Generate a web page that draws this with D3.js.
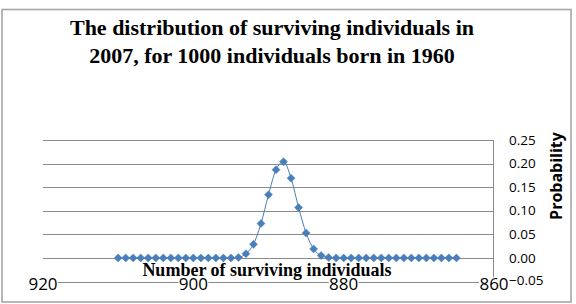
<!DOCTYPE html>
<html><head><meta charset="utf-8">
<script src="https://cdn.jsdelivr.net/npm/d3@7"></script>
<style>body{margin:0;background:#fff}svg{display:block}</style>
</head><body>
<script>
const titleLines = ["The distribution of surviving individuals in", "2007, for 1000 individuals born in 1960"];
const xAxisTitle = "Number of surviving individuals";
const yAxisTitle = "Probability";
const survivors = [910,909,908,907,906,905,904,903,902,901,900,899,898,897,896,895,894,893,892,891,890,889,888,887,886,885,884,883,882,881,880,879,878,877,876,875,874,873,872,871,870,869,868,867,866,865];
const probability = [0,0,0,0,0,0,0,0,0,0,0,0,0,0,0,0,0.001,0.009,0.029,0.073,0.134,0.187,0.204,0.169,0.107,0.053,0.019,0.005,0.001,0,0,0,0,0,0,0,0,0,0,0,0,0,0,0,0,0];
const xTicks = [920, 900, 880, 860];
const yTicks = [-0.05, 0, 0.05, 0.10, 0.15, 0.20, 0.25];

const W = 576, H = 304;
const svg = d3.select("body").append("svg").attr("width", W).attr("height", H);
svg.append("rect").attr("width", W).attr("height", H).attr("fill", "#fff");
svg.append("rect").attr("x", 2).attr("y", 9.5).attr("width", 569).attr("height", 292.5)
  .attr("fill", "none").attr("stroke", "#a6a6a6").attr("stroke-width", 1.6);

const x = d3.scaleLinear().domain([920, 860]).range([43, 494]);
const y = d3.scaleLinear().domain([-0.05, 0.25]).range([281.5, 140]);

// gridlines
svg.append("g").selectAll("line").data(yTicks).join("line")
  .attr("x1", x(920)).attr("x2", x(860))
  .attr("y1", d => Math.round(y(d)) + 0.5).attr("y2", d => Math.round(y(d)) + 0.5)
  .attr("stroke", "#8a8a8a").attr("stroke-width", 1);
// value axis line (right)
svg.append("line").attr("x1", x(860) - 0.5).attr("x2", x(860) - 0.5)
  .attr("y1", Math.round(y(0.25)) + 0.5).attr("y2", Math.round(y(-0.05)) + 0.5)
  .attr("stroke", "#8a8a8a");

// y tick labels
const yFmt = d3.format(".2f");
svg.append("g").selectAll("text").data(yTicks).join("text")
  .attr("x", 509).attr("y", d => y(d) + (d < 0 ? -1 : 0)).attr("dy", "0.35em")
  .attr("font-family", "Open Sans").attr("font-size", 13.5).attr("fill", "#000")
  .text(d => yFmt(d));

// x tick labels with white backing
const xl = svg.append("g").selectAll("g").data(xTicks).join("g");
xl.append("rect").attr("x", d => x(d) - 15).attr("y", 277).attr("width", 30).attr("height", 14).attr("fill", "#fff");
xl.append("text").attr("x", d => x(d)).attr("y", 284).attr("dy", "0.35em").attr("text-anchor", "middle")
  .attr("font-family", "Open Sans").attr("font-size", 17).attr("fill", "#000")
  .text(d => d);

// series
const pts = survivors.map((s, i) => ({s, p: probability[i]}));
svg.append("path").datum(pts)
  .attr("d", d3.line().x(d => x(d.s)).y(d => y(d.p)).curve(d3.curveMonotoneX))
  .attr("fill", "none").attr("stroke", "#4a7ebb").attr("stroke-width", 1);
svg.append("g").selectAll("path").data(pts).join("path")
  .attr("transform", d => `translate(${x(d.s)},${y(d.p)})`)
  .attr("d", "M0,-4L4,0L0,4L-4,0Z")
  .attr("fill", "#4a7ebb").attr("stroke", "#4a7ebb").attr("stroke-width", 0.5);

// titles
svg.append("g").selectAll("text").data(titleLines).join("text")
  .attr("x", 272).attr("y", (d, i) => 35 + i * 28).attr("text-anchor", "middle")
  .attr("font-family", "Liberation Serif").attr("font-weight", "bold").attr("font-size", 22)
  .text(d => d);

svg.append("text").attr("x", 267).attr("y", 276).attr("text-anchor", "middle")
  .attr("font-family", "Liberation Serif").attr("font-weight", "bold").attr("font-size", 18)
  .text(xAxisTitle);

svg.append("text").attr("transform", "translate(562,176) rotate(-90)").attr("text-anchor", "middle")
  .attr("font-family", "Open Sans").attr("font-weight", "bold").attr("font-size", 16)
  .text(yAxisTitle);
</script>
</body></html>
